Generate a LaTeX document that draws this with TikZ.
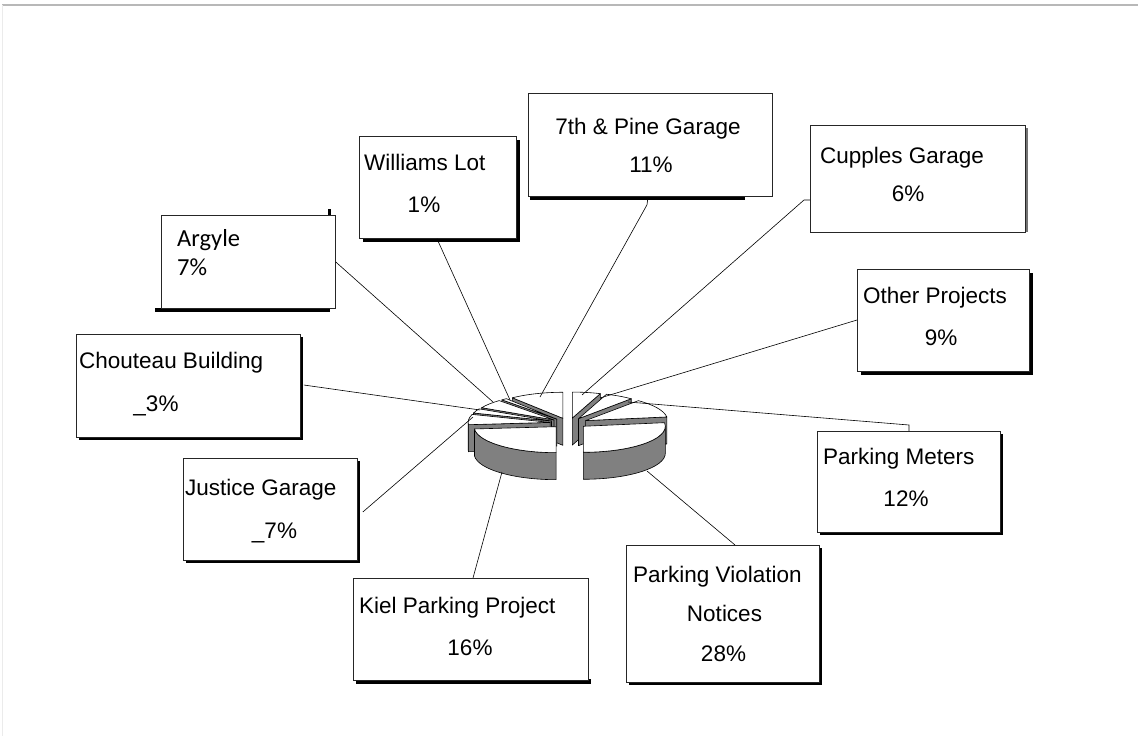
\documentclass[tikz,border=0pt]{standalone}
\usepackage{fontspec}
\setmainfont{Liberation Sans}
\newfontfamily\argfont{Carlito}
\usetikzlibrary{shadows,calc}
\tikzset{
  box/.style={draw=black!85, fill=white, line width=0.8pt, inner sep=0pt, anchor=north west},
  shbox/.style={box, drop shadow={shadow xshift=#1, shadow yshift=-#1, fill=black, opacity=1}},
  lbl/.style={inner sep=0pt, font=\fontsize{22.5}{27}\selectfont},
  lblC/.style={lbl, anchor=base},
  lblW/.style={lbl, anchor=base west},
  conn/.style={draw=black, line width=0.6pt},
  pieside/.style={fill=black!50, draw=black, line width=0.6pt, line join=round},
  pietop/.style={fill=white, draw=black, line width=0.6pt, line join=round},
  shadowfill/.style={fill=black}
}
\newcommand{\psWedge}[4]{%
  \pgfmathsetmacro{\psMid}{(#1+#2)/2}%
  \pgfmathsetmacro{\psDx}{569+19*cos(\psMid)}%
  \pgfmathsetmacro{\psDy}{423+5*sin(\psMid)}%
  \pgfmathtruncatemacro{\psVa}{cos(#1)<-0.001}%
  \pgfmathtruncatemacro{\psVb}{cos(#2)>0.001}%
  \begin{scope}[shift={(\psDx,\psDy)}]
    \ifnum\psVa=1 \filldraw[pieside] (0,0) -- ({82*cos(#1)},{26*sin(#1)}) -- ++(0,27) -- (0,27) -- cycle;\fi
    \ifnum\psVb=1 \filldraw[pieside] (0,0) -- ({82*cos(#2)},{26*sin(#2)}) -- ++(0,27) -- (0,27) -- cycle;\fi
    \ifdim #3pt<#4pt \filldraw[pieside] ({82*cos(#3)},{26*sin(#3)}) arc[start angle=#3,end angle=#4,x radius=82,y radius=26] -- ++(0,27) arc[start angle=#4,end angle=#3,x radius=82,y radius=26] -- cycle;\fi
    \filldraw[pietop] (0,0) -- ({82*cos(#1)},{26*sin(#1)}) arc[start angle=#1,end angle=#2,x radius=82,y radius=26] -- cycle;
  \end{scope}}
\begin{document}
\begin{tikzpicture}[x=1pt,y=-1pt]
\useasboundingbox (0,0) rectangle (1138,736);
\fill[white] (0,0) rectangle (1138,736);
% frame
\draw[black!28, line width=1.2pt] (2,5) -- (1138,5);
\draw[black!8, line width=0.8pt] (2,5) -- (2,736);

% special shadows
\fill[shadowfill] (155,308) rectangle (330,312);
\fill[shadowfill] (327.5,209) rectangle (330.5,216);
\fill[shadowfill] (530,195) rectangle (745,200);
\fill[black!55] (1024,128) rectangle (1028,232);
\fill[shadowfill] (356,679) rectangle (591,684);

% boxes
\node[shbox=4pt, minimum width=157pt, minimum height=102pt] (wl) at (359,136) {};
\node[box, minimum width=244pt, minimum height=103pt] (sp) at (528,93) {};
\node[box, minimum width=215pt, minimum height=107pt] (cg) at (810,125) {};
\node[shbox=4pt, minimum width=172pt, minimum height=102pt] (op) at (857,269) {};
\node[shbox=3pt, minimum width=183pt, minimum height=101pt] (pm) at (817,431) {};
\node[shbox=3pt, minimum width=193pt, minimum height=137pt] (pv) at (626,545) {};
\node[box, minimum width=235pt, minimum height=102pt] (kp) at (353,578) {};
\node[shbox=3pt, minimum width=174pt, minimum height=102pt] (jg) at (183,458) {};
\node[shbox=3pt, minimum width=224pt, minimum height=103pt] (cb) at (76,334) {};
\node[box, minimum width=174pt, minimum height=93pt] (ar) at (161,215) {};

% labels
\node[lblW] (wl1) at (364,170) {Williams Lot};
\node[lblC] (wl2) at (424,212) {1\%};
\node[lbl, anchor=base west, font=\argfont\fontsize{24.5}{28}\selectfont] (ar1) at (177,246) {Argyle};
\node[lbl, anchor=base west, font=\argfont\fontsize{24.5}{28}\selectfont] (ar2) at (177,275) {7\%};
\node[lblC] (sp1) at (648,134) {7th \& Pine Garage};
\node[lblC] (sp2) at (651,172) {11\%};
\node[lblW] (cg1) at (820,163) {Cupples Garage};
\node[lblC] (cg2) at (908,201) {6\%};
\node[lblW] (op1) at (863,303) {Other Projects};
\node[lblC] (op2) at (941,345) {9\%};
\node[lblW] (pm1) at (823,464) {Parking Meters};
\node[lblC] (pm2) at (906,506) {12\%};
\node[lblW] (pv1) at (633,582) {Parking Violation};
\node[lblC] (pv2) at (724.5,621) {Notices};
\node[lblC] (pv3) at (723.5,661) {28\%};
\node[lblW] (kp1) at (359,613) {Kiel Parking Project};
\node[lblC] (kp2) at (470,655) {16\%};
\node[lblW] (jg1) at (185,495) {Justice Garage};
\node[lblC] (jg2) at (274.5,538) {\_7\%};
\node[lblW] (cb1) at (79,368) {Chouteau Building};
\node[lblC] (cb2) at (156,411) {\_3\%};

% pie (back to front)
\psWedge{270}{290}{0}{0}   % Cupples
\psWedge{232}{270}{0}{0}   % 7th & Pine
\psWedge{290}{310}{0}{0}   % Other Projects
\psWedge{228}{232}{0}{0}   % Williams
\psWedge{208}{228}{0}{0}   % Argyle
\psWedge{310}{352}{0}{0}   % Parking Meters
\psWedge{198}{208}{0}{0}   % Chouteau
\psWedge{175}{198}{175}{180} % Justice
\psWedge{-8}{90}{0}{90}    % Violation
\psWedge{90}{175}{90}{175} % Kiel

% connector ends on the pie
\coordinate (pWL) at (510,400);
\coordinate (pSP) at (540,397);
\coordinate (pAR) at (493,402);
\coordinate (pCB) at (480,410);
\coordinate (pJG) at (473,417);
\coordinate (pKP) at (502,472);
\coordinate (pPV) at (647,471);
\coordinate (pPM) at (628,402);
\coordinate (pOP) at (600,398);
\coordinate (pCG) at (582,395);

% connectors
\draw[conn] ([xshift=78pt]wl.south west) -- (pWL);
\draw[conn] ([xshift=120pt]sp.south west) -- ++(-1,8) -- (pSP);
\draw[conn] ([yshift=-75pt]cg.north west) -- ++(-6,0) -- (pCG);
\draw[conn] ([yshift=-51pt]op.north west) -- (pOP);
\draw[conn] ([xshift=92pt]pm.north west) -- ++(0,-6) -- (pPM);
\draw[conn] ([xshift=109pt]pv.north west) -- (pPV);
\draw[conn] ([xshift=120pt]kp.north west) -- (pKP);
\draw[conn] ([xshift=5pt,yshift=-54pt]jg.north east) -- (pJG);
\draw[conn] ([xshift=3pt,yshift=-51pt]cb.north east) -- (pCB);
\draw[conn] ([yshift=-47pt]ar.north east) -- (pAR);
\end{tikzpicture}
\end{document}
